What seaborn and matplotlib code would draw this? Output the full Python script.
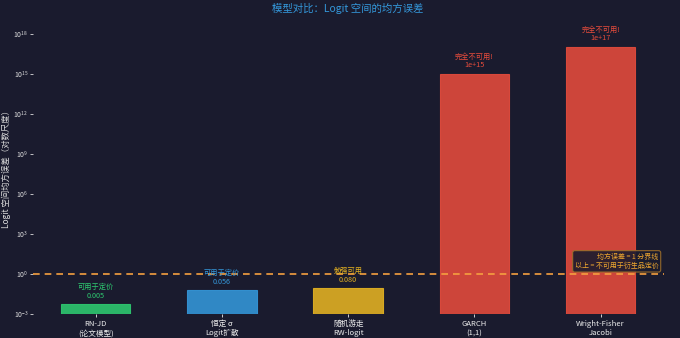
import matplotlib
matplotlib.use("Agg")
import matplotlib.pyplot as plt
import seaborn as sns
import pandas as pd

categories = ["RN-JD\n(论文模型)", "恒定 σ\nLogit扩散", "随机游走\nRW-logit", "GARCH\n(1,1)", "Wright-Fisher\nJacobi"]
mse_values = [0.005, 0.056, 0.080, 1e15, 1e17]
status_labels = ["可用于定价", "可用于定价", "勉强可用", "完全不可用!", "完全不可用!"]
value_texts = ["0.005", "0.056", "0.080", "1e+15", "1e+17"]
bar_colors = ["#2ecc71", "#3498db", "#e6b422", "#e74c3c", "#e74c3c"]
yticks = [1e-3, 1e0, 1e3, 1e6, 1e9, 1e12, 1e15, 1e18]

BG = "#1a1b2e"
sns.set_theme(style="dark")
plt.rcParams['font.family'] = ['Noto Sans CJK SC', 'DejaVu Sans']
plt.rcParams['axes.unicode_minus'] = False

fig = plt.figure(figsize=(6.8, 3.38), dpi=100, facecolor=BG)
ax = fig.add_axes([0.048, 0.072, 0.928, 0.868])
ax.set_facecolor(BG)

df = pd.DataFrame({"model": categories, "mse": mse_values})
sns.barplot(data=df, x="model", y="mse", hue="model", palette=bar_colors,
            legend=False, width=0.55, alpha=0.88, saturation=1, ax=ax)
for p, c in zip(ax.patches, bar_colors):
    p.set_edgecolor(c)
    p.set_linewidth(0.8)

ax.set_yscale("log")
ax.set_ylim(1e-3, 1e19)
ax.set_xlim(-0.5, 4.5)
ax.set_yticks(yticks)
ax.minorticks_off()
ax.tick_params(axis="y", left=True, colors="#dddddd", labelsize=5, length=2, width=0.6, pad=1)
ax.tick_params(axis="x", bottom=True, colors="#eeeeee", labelsize=5.5, length=2, width=0.6, pad=2.5)
for lab in ax.get_xticklabels():
    lab.set_color("#eeeeee")

for i, (v, s, t, c) in enumerate(zip(mse_values, status_labels, value_texts, bar_colors)):
    ax.text(i, v * 2.2, f"{s}\n{t}", ha="center", va="bottom", fontsize=5.2,
            color=c, linespacing=1.1)

ax.axhline(1.0, color="#f5a040", linestyle="--", linewidth=1.2, dashes=(4, 3))
ax.text(4.46, 1.9, "均方误差 = 1 分界线\n以上 = 不可用于衍生品定价", ha="right", va="bottom",
        fontsize=5, color="#f0a830", linespacing=1.2,
        bbox=dict(boxstyle="round,pad=0.3", facecolor=BG, edgecolor="#a0702a", linewidth=0.8, alpha=0.9))

ax.set_xlabel("")
ax.set_ylabel("Logit 空间均方误差（对数尺度）", color="#dddddd", fontsize=6, labelpad=2)
ax.set_title("模型对比：Logit 空间的均方误差", color="#3498db", fontsize=7.5, pad=6)
for sp in ax.spines.values():
    sp.set_visible(False)
ax.grid(False)

fig.savefig("out.png", dpi=100, facecolor=BG)
